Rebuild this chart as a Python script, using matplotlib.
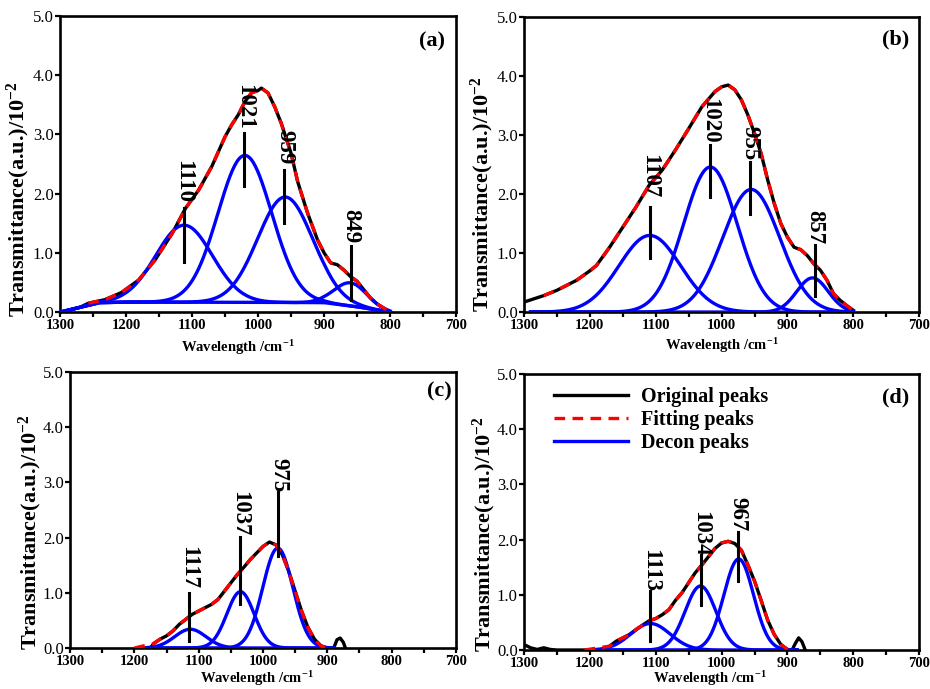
import matplotlib
matplotlib.use('Agg')
import matplotlib.pyplot as plt
import numpy as np

plt.rcParams['font.family'] = ['Liberation Serif', 'DejaVu Serif']
plt.rcParams['mathtext.fontset'] = 'custom'
plt.rcParams['mathtext.rm'] = 'Liberation Serif'
plt.rcParams['mathtext.bf'] = 'Liberation Serif:bold'
plt.rcParams['mathtext.default'] = 'bf'

# ---- data (wavenumber in cm-1, transmittance / 10^-2) ----
# panel (a)
orig_wn_a = [1300, 1290, 1270, 1257, 1232, 1207, 1181, 1156, 1130, 1110, 1090, 1070, 1050, 1040,
             1030, 1020, 1010, 1000, 995, 985, 975, 965, 950, 940, 925, 910, 900, 890, 880,
             870, 860, 850, 840, 830, 820, 810, 800]
orig_val_a = [0.0, 0.02, 0.08, 0.15, 0.21, 0.33, 0.54, 0.88, 1.33, 1.75, 2.06, 2.46, 2.96, 3.16,
              3.33, 3.55, 3.70, 3.74, 3.78, 3.70, 3.47, 3.19, 2.68, 2.20, 1.67, 1.22, 1.00, 0.83, 0.80,
              0.71, 0.60, 0.52, 0.38, 0.24, 0.14, 0.07, 0.0]
base_wn_a = [1300, 1240, 1200, 900, 850, 800]
base_val_a = [0.0, 0.16, 0.17, 0.16, 0.09, 0.0]
peak_pos_a = [1112, 1020, 959, 860]
peak_amp_a = [1.30, 2.48, 1.78, 0.39]
peak_fwhm_a = [101, 96, 98, 58]
label_a = ['1110', '1021', '959', '849']
label_x_a = [1112, 1021, 960, 859]
line_y_a = [(0.85, 1.75), (2.12, 3.02), (1.51, 2.40), (0.21, 1.11)]
text_y_a = [2.20, 3.46, 2.78, 1.45]

# panel (b)
orig_wn_b = [1300, 1270, 1250, 1220, 1200, 1190, 1170, 1150, 1130, 1110, 1090, 1070, 1050, 1030,
             1010, 1000, 990, 980, 970, 960, 950, 940, 930, 920, 910, 900, 890, 880, 870, 860,
             850, 840, 830, 820, 810, 800]
orig_val_b = [0.17, 0.28, 0.37, 0.54, 0.70, 0.79, 1.10, 1.44, 1.78, 2.15, 2.41, 2.75, 3.11, 3.48,
              3.74, 3.82, 3.85, 3.77, 3.60, 3.34, 3.03, 2.69, 2.24, 1.84, 1.50, 1.27, 1.10, 1.06,
              0.96, 0.82, 0.71, 0.54, 0.31, 0.20, 0.11, 0.03]
peak_pos_b = [1109, 1017, 955, 862]
peak_amp_b = [1.30, 2.46, 2.08, 0.58]
peak_fwhm_b = [110, 96, 102, 56]
label_b = ['1107', '1020', '955', '857']
label_x_b = [1109, 1018, 957, 858]
line_y_b = [(0.91, 1.78), (1.95, 2.83), (1.67, 2.55), (0.28, 1.13)]
text_y_b = [2.31, 3.25, 2.87, 1.45]

# panel (c)
orig_wn_c = [1175, 1170, 1160, 1150, 1140, 1130, 1120, 1110, 1100, 1090, 1080, 1070, 1060, 1050,
             1040, 1030, 1020, 1010, 1000, 990, 980, 970, 960, 950, 940, 930, 920, 910, 900,
             890, 885, 880, 875, 872]
orig_val_c = [0.0, 0.08, 0.16, 0.22, 0.31, 0.43, 0.52, 0.61, 0.67, 0.73, 0.79, 0.88, 1.03, 1.18,
              1.33, 1.46, 1.60, 1.72, 1.84, 1.92, 1.87, 1.69, 1.39, 1.03, 0.67, 0.37, 0.16, 0.04, 0.0,
              0.0, 0.15, 0.18, 0.10, 0.0]
peak_pos_c = [1113, 1035, 977]
peak_amp_c = [0.34, 1.02, 1.81]
peak_fwhm_c = [57, 50, 55]
label_c = ['1117', '1037', '975']
label_x_c = [1115, 1036, 976]
line_y_c = [(0.12, 1.00), (0.79, 2.02), (1.66, 2.83)]
text_y_c = [1.45, 2.44, 3.13]

# panel (d)
orig_wn_d = [1300, 1290, 1280, 1270, 1260, 1250, 1180, 1170, 1160, 1150, 1140, 1130, 1120, 1110,
             1100, 1090, 1080, 1070, 1060, 1050, 1040, 1030, 1020, 1010, 1000, 990, 980, 970,
             960, 950, 940, 930, 920, 910, 900, 893, 888, 883, 878, 873]
orig_val_d = [0.10, 0.04, 0.01, 0.04, 0.01, 0.0, 0.0, 0.07, 0.16, 0.22, 0.28, 0.37, 0.45, 0.53,
              0.57, 0.64, 0.73, 0.90, 1.04, 1.22, 1.40, 1.54, 1.69, 1.84, 1.94, 1.97, 1.93, 1.81,
              1.54, 1.25, 0.90, 0.54, 0.28, 0.10, 0.01, 0.0, 0.12, 0.22, 0.15, 0.0]
peak_pos_d = [1108, 1032, 974]
peak_amp_d = [0.48, 1.16, 1.65]
peak_fwhm_d = [70, 55, 53]
label_d = ['1113', '1034', '967']
label_x_d = [1108, 1032, 975]
line_y_d = [(0.16, 1.07), (0.81, 1.72), (1.25, 2.13)]
text_y_d = [1.44, 2.10, 2.47]

# fitting curve range (where the red dashes run) and its starting point
fit_range = {'a': (1260, 800, None), 'b': (1270, 800, None),
             'c': (1170, 900, (1200, 0.0)), 'd': (1175, 900, (1208, 0.0))}

# xlab: (x, y, vertical alignment) in axes fraction
panels = {
    'a': dict(rect=[0.0645, 0.547, 0.426, 0.430], wn=orig_wn_a, val=orig_val_a,
              pos=peak_pos_a, amp=peak_amp_a, fwhm=peak_fwhm_a, span=(1300, 800),
              labels=label_a, lx=label_x_a, ly=line_y_a, ty=text_y_a,
              ylab=(-0.105, 0.38), xlab=(0.45, -0.118, 'center'), tag=(0.94, 0.915)),
    'b': dict(rect=[0.5634, 0.547, 0.425, 0.428], wn=orig_wn_b, val=orig_val_b,
              pos=peak_pos_b, amp=peak_amp_b, fwhm=peak_fwhm_b, span=(1290, 800),
              labels=label_b, lx=label_x_b, ly=line_y_b, ty=text_y_b,
              ylab=(-0.104, 0.40), xlab=(0.50, -0.112, 'center'), tag=(0.94, 0.925)),
    'c': dict(rect=[0.0753, 0.0595, 0.415, 0.4005], wn=orig_wn_c, val=orig_val_c,
              pos=peak_pos_c, amp=peak_amp_c, fwhm=peak_fwhm_c, span=(1190, 890),
              labels=label_c, lx=label_x_c, ly=line_y_c, ty=text_y_c,
              ylab=(-0.103, 0.42), xlab=(0.485, -0.145, 'bottom'), tag=(0.956, 0.928)),
    'd': dict(rect=[0.5634, 0.0566, 0.425, 0.4004], wn=orig_wn_d, val=orig_val_d,
              pos=peak_pos_d, amp=peak_amp_d, fwhm=peak_fwhm_d, span=(1200, 885),
              labels=label_d, lx=label_x_d, ly=line_y_d, ty=text_y_d,
              ylab=(-0.101, 0.42), xlab=(0.47, -0.138, 'bottom'), tag=(0.94, 0.915)),
}

fig = plt.figure(figsize=(9.3, 6.89), dpi=100)

for key, p in panels.items():
    ax = fig.add_axes(p['rect'])
    wn = np.array(p['wn'], dtype=float)
    val = np.array(p['val'], dtype=float)

    # original spectrum
    ax.plot(wn, val, color='black', lw=2.4, zorder=2, label='Original peaks')

    # deconvoluted gaussian peaks
    grid = np.linspace(p['span'][0], p['span'][1], 300)
    if key == 'a':
        base = np.interp(grid, base_wn_a[::-1], base_val_a[::-1])
    else:
        base = np.zeros_like(grid)
    for i, (c, a, w) in enumerate(zip(p['pos'], p['amp'], p['fwhm'])):
        g = base + a * np.exp(-4 * np.log(2) * (grid - c) ** 2 / w ** 2)
        ax.plot(grid, g, color='#0000ff', lw=2.4, zorder=3,
                label='Decon peaks' if i == 0 else None)

    # fitting curve (follows the original)
    hi, lo, start = fit_range[key]
    m = (wn <= hi) & (wn >= lo)
    fx, fy = list(wn[m]), list(val[m])
    if start is not None:
        fx = [start[0]] + fx
        fy = [start[1]] + fy
    ax.plot(fx, fy, color='#ff0000', lw=2.4, dashes=(3.2, 2.2), zorder=4,
            label='Fitting peaks')

    # peak markers and labels
    for lab, x, (y0, y1), ty in zip(p['labels'], p['lx'], p['ly'], p['ty']):
        ax.plot([x, x], [y0, y1], color='black', lw=2.2, zorder=5)
        ax.text(x, ty, lab, rotation=270, ha='center', va='center',
                fontsize=16.5, fontweight='bold', zorder=6)

    ax.set_xlim(1300, 700)
    ax.set_ylim(0, 5.0)
    ax.set_xticks([1300, 1200, 1100, 1000, 900, 800, 700])
    ax.set_xticks([1250, 1150, 1050, 950, 850, 750], minor=True)
    ax.set_yticks([0, 1, 2, 3, 4, 5])
    ax.set_yticklabels(['0.0', '1.0', '2.0', '3.0', '4.0', '5.0'])
    ax.tick_params(axis='both', which='both', direction='out', length=3.5, width=1.6,
                   top=False, right=False)
    ax.tick_params(axis='x', which='major', labelsize=10.5, pad=1.5)
    ax.tick_params(axis='y', labelsize=12, pad=1)
    for t in ax.get_xticklabels():
        t.set_fontweight('bold')
    for s in ax.spines.values():
        s.set_linewidth(1.9)

    ax.set_ylabel(r'Transmittance(a.u.)/10$^{-2}$', fontsize=16, fontweight='bold')
    ax.yaxis.set_label_coords(*p['ylab'])
    ax.yaxis.label.set_va('center')
    ax.set_xlabel(r'Wavelength /cm$^{-1}$', fontsize=10.5, fontweight='bold')
    ax.xaxis.set_label_coords(p['xlab'][0], p['xlab'][1])
    ax.xaxis.label.set_va(p['xlab'][2])

    ax.text(p['tag'][0], p['tag'][1], '(%s)' % key, transform=ax.transAxes,
            ha='center', va='center', fontsize=16, fontweight='bold')

    if key == 'd':
        h, l = ax.get_legend_handles_labels()
        order = [l.index('Original peaks'), l.index('Fitting peaks'), l.index('Decon peaks')]
        ax.legend([h[i] for i in order], [l[i] for i in order], loc='upper left',
                  bbox_to_anchor=(0.03, 1.02), frameon=False,
                  prop={'weight': 'bold', 'size': 14.5}, handlelength=3.7,
                  handletextpad=0.6, labelspacing=0.15)

fig.savefig('out.png', dpi=100)
